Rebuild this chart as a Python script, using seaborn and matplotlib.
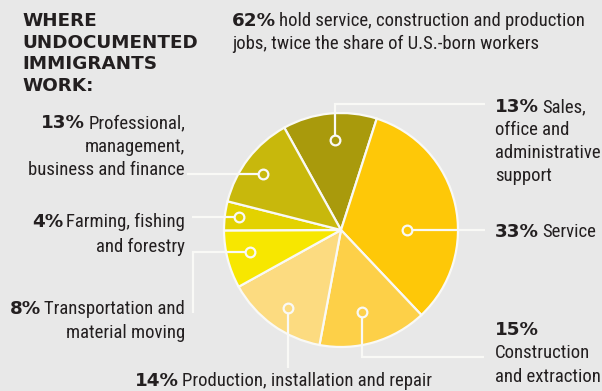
import matplotlib
matplotlib.use("Agg")
import matplotlib.pyplot as plt
from matplotlib import font_manager
import seaborn as sns

W, H = 602, 391

# Share of undocumented immigrant workers by occupation group (percent),
# listed clockwise starting at the top of the pie
sectors = ["Sales", "Service", "Construction", "Production",
           "Transportation", "Farming", "Professional"]
shares = [13, 33, 15, 14, 8, 4, 13]
label_text = [
    "Sales,\noffice and\nadministrative\nsupport",
    "Service",
    "\nConstruction\nand extraction",
    "Production, installation and repair",
    "Transportation and\nmaterial moving",
    "Farming, fishing\nand forestry",
    "Professional,\nmanagement,\nbusiness and finance",
]
title_lines = ["WHERE", "UNDOCUMENTED", "IMMIGRANTS", "WORK:"]
note_groups = ["Service", "Construction", "Production"]
note_rest = ["hold service, construction and production",
             "jobs, twice the share of U.S.-born workers"]

sector_colors = sns.color_palette(["#a99a0c", "#fec808", "#fdd048", "#fcdb80",
                                   "#f7e700", "#e3d200", "#c8b80c"])

# Layout in pixel units (origin top-left)
pie_center = (341, 230)
pie_radius = 117
start_cw_deg = 331           # clockwise-from-top angle where the first slice begins
leaders = [                   # marker first, then the elbow/end points
    [(335, 140), (335, 104), (485, 104)],
    [(407, 230), (485, 230)],
    [(362, 312), (362, 357), (484, 357)],
    [(288, 308), (288, 368)],
    [(250, 252), (193, 252), (193, 313)],
    [(239, 217), (192, 217)],
    [(263, 174), (187, 174)],
]
label_anchor = [(495, 112, "left", 23), (495, 237, "left", 23),
                (495, 335, "left", 23.3), (135, 386, "left", 23),
                (185, 314, "right", 24), (185, 227, "right", 24.5),
                (185, 128, "right", 23.5)]

bg = "#e8e8e8"
ink = "#231f20"
line_col = "#f9f9f6"

sns.set_style("white", {"axes.facecolor": bg, "figure.facecolor": bg})


def narrow_font():
    """Pick a regular-weight condensed sans face if one is installed."""
    wanted = ["Liberation Sans Narrow", "Roboto Condensed", "Open Sans Condensed",
              "Noto Sans Condensed", "DejaVu Sans Condensed"]
    cands = []
    for f in font_manager.fontManager.ttflist:
        nm = f.name
        st = str(f.stretch).lower()
        is_narrow = ("narrow" in nm.lower() or "condensed" in nm.lower()
                     or st in ("condensed", "semi-condensed", "extra-condensed")
                     or "condensed" in f.fname.lower() or "narrow" in f.fname.lower())
        if not is_narrow or f.style != "normal":
            continue
        w = f.weight if isinstance(f.weight, int) else 400
        if w not in (400, "normal", "regular"):
            continue
        rank = next((i for i, n in enumerate(wanted) if n.lower() in
                     (nm + " " + f.fname).lower().replace("-", " ")), len(wanted))
        cands.append((rank, f.fname))
    if cands:
        cands.sort()
        return cands[0][1], True
    return None, False


path, found = narrow_font()
if found:
    body_props = font_manager.FontProperties(fname=path, size=13.5)
else:
    body_props = font_manager.FontProperties(family="DejaVu Sans",
                                             stretch="condensed", size=11.5)
body_font = dict(fontproperties=body_props, color=ink)
bold_font = dict(family=["DejaVu Sans"], weight="bold", size=13.2, color=ink)

fig = plt.figure(figsize=(W / 100, H / 100), dpi=100)
ax = fig.add_axes([0, 0, 1, 1])

wedges, _ = ax.pie(shares, colors=sector_colors, center=pie_center,
                   radius=pie_radius, startangle=start_cw_deg - 90,
                   counterclock=True,
                   wedgeprops=dict(edgecolor=line_col, linewidth=1.6))
ax.set_xlim(0, W)
ax.set_ylim(H, 0)
ax.set_aspect("equal")
ax.axis("off")

# Leader lines with ring markers
for pts, w in zip(leaders, wedges):
    xs = [p[0] for p in pts]
    ys = [p[1] for p in pts]
    ax.plot(xs, ys, color=line_col, lw=1.6, solid_capstyle="butt",
            solid_joinstyle="miter", zorder=3)
    ax.plot(xs[0], ys[0], "o", ms=7, mfc=w.get_facecolor(), mec=line_col,
            mew=1.6, zorder=4)

fig.canvas.draw()
renderer = fig.canvas.get_renderer()


def width_of(s, font):
    t = ax.text(0, 0, s, **font)
    w = t.get_window_extent(renderer).width
    t.remove()
    return w


def rich_line(x, y, bold, rest, ha, gap=3):
    wb = width_of(bold, bold_font) if bold else 0
    wr = width_of(rest, body_font) if rest else 0
    total = wb + (gap if bold and rest else 0) + wr
    if ha == "right":
        x0 = x - total
    elif ha == "center":
        x0 = x - total / 2
    else:
        x0 = x
    if bold:
        ax.text(x0, y, bold, va="baseline", ha="left", **bold_font)
    if rest:
        ax.text(x0 + total - wr, y, rest, va="baseline", ha="left", **body_font)


# Title
for i, line in enumerate(title_lines):
    ax.text(22, 26 + i * 21.6, line, va="baseline", ha="left", **bold_font)

# Note at top
note_pct = sum(s for n, s in zip(sectors, shares) if n in note_groups)
rich_line(232, 26, f"{note_pct}%", note_rest[0], "left")
rich_line(232, 49, "", note_rest[1], "left")

# Slice labels
for share, text, (x, y, ha, pitch) in zip(shares, label_text, label_anchor):
    lines = text.split("\n")
    for i, line in enumerate(lines):
        bold = f"{share}%" if i == 0 else ""
        rich_line(x, y + i * pitch, bold, line, ha)

fig.savefig("out.png", dpi=100, facecolor=bg)
